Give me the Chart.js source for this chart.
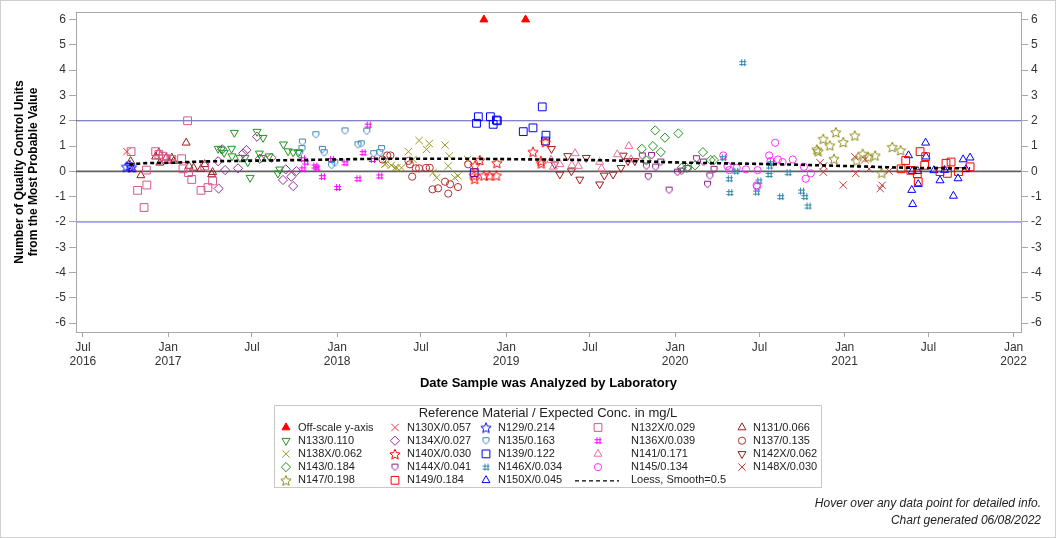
<!DOCTYPE html>
<html>
<head>
    <meta charset="UTF-8">
    <title>Quality Control Units</title>
    <style>
        body {
            margin: 0;
            background-color: #ffffff;
        }

        #grafico-container {
            width: 1056px;
            height: 538px;
        }
    </style>
    <script src="https://cdn.jsdelivr.net/npm/chart.js"></script>
</head>
<body>
    <div id="grafico-container"><canvas id="grafico" width="1056" height="538"></canvas></div>

    <script>
        // axis ranges and ticks
        var xStart = '2016-06-16';
        var xEnd = '2022-01-17';
        var xTickDates = ['2016-07-01', '2017-01-01', '2017-07-01', '2018-01-01', '2018-07-01', '2019-01-01',
            '2019-07-01', '2020-01-01', '2020-07-01', '2021-01-01', '2021-07-01', '2022-01-01'];
        var monthNames = ['Jan', 'Feb', 'Mar', 'Apr', 'May', 'Jun', 'Jul', 'Aug', 'Sep', 'Oct', 'Nov', 'Dec'];
        var yTicks = [-6, -5, -4, -3, -2, -1, 0, 1, 2, 3, 4, 5, 6];
        var yMin = -6.35;
        var yMax = 6.3;
        var refLines = [0, 2, -2];

        // series: [date analyzed, QC units from MPV]
        var offScale = [['2018-11-14', 6], ['2019-02-12', 6]];
        var n130x = [['2016-10-04', 0.78]];
        var n129 = [['2016-10-03', 0.19], ['2016-10-10', 0.25], ['2016-10-14', 0.17]];
        var n132x = [['2016-10-13', 0.78], ['2016-11-15', 0.05], ['2016-10-27', -0.75], ['2016-11-10', -1.43],
            ['2016-11-16', -0.54], ['2016-12-05', 0.78], ['2016-12-12', 0.67], ['2016-12-21', 0.6], ['2016-12-28', 0.5],
            ['2017-01-09', 0.47], ['2017-01-30', 0.5], ['2017-02-12', 2.0], ['2017-02-02', 0.1], ['2017-02-14', -0.05],
            ['2017-02-21', -0.32], ['2017-03-13', -0.75], ['2017-03-21', 0.21], ['2017-03-28', -0.64], ['2017-04-07', -0.38]];
        var n131 = [['2016-10-12', 0.4], ['2016-10-16', 0.08], ['2016-11-03', -0.16], ['2016-12-05', 0.58],
            ['2016-12-12', 0.74], ['2016-12-14', 0.34], ['2016-12-28', 0.54], ['2017-01-09', 0.54], ['2017-01-13', 0.4],
            ['2017-02-09', 1.13], ['2017-02-15', 0.21], ['2017-02-25', 0.14], ['2017-03-13', 0.1], ['2017-03-21', 0.28],
            ['2017-04-07', -0.03], ['2017-04-05', -0.12]];
        var n133 = [['2017-04-19', 0.9], ['2017-04-26', 0.87], ['2017-05-24', 1.53], ['2017-05-02', 0.74],
            ['2017-05-18', 0.9], ['2017-05-19', 0.6], ['2017-06-05', 0.54], ['2017-06-16', 0.54], ['2017-06-27', -0.25],
            ['2017-06-22', 0.37], ['2017-07-12', 1.57], ['2017-07-25', 1.33], ['2017-07-17', 0.71], ['2017-07-22', 0.54],
            ['2017-08-07', 0.6], ['2017-09-07', 1.07], ['2017-09-17', 0.8], ['2017-09-28', 0.76], ['2017-10-09', 0.74],
            ['2017-08-30', 0.08], ['2017-08-26', -0.08]];
        var n134x = [['2017-04-19', 0.4], ['2017-04-28', 0.87], ['2017-05-04', 0.05], ['2017-06-01', 0.12],
            ['2017-04-20', -0.68], ['2017-06-12', 0.71], ['2017-06-19', 0.84], ['2017-07-12', 1.37], ['2017-07-18', 0.5],
            ['2017-08-12', 0.54], ['2017-09-06', -0.34], ['2017-09-12', 0.08], ['2017-09-24', -0.21], ['2017-09-28', -0.58],
            ['2017-10-05', 0.01]];
        var n135 = [['2017-10-18', 1.16], ['2017-11-16', 1.45], ['2017-10-17', 0.9], ['2017-10-12', 0.74],
            ['2017-11-30', 0.87], ['2017-12-04', 0.74], ['2017-12-20', 0.24], ['2017-12-27', 0.34], ['2018-01-18', 1.6],
            ['2018-02-15', 1.05], ['2018-02-22', 1.09], ['2018-03-06', 1.59], ['2018-03-21', 0.7], ['2018-04-07', 0.9],
            ['2018-04-03', 0.74]];
        var n136x = [['2017-10-18', 0.5], ['2017-10-25', 0.37], ['2017-10-19', 0.1], ['2017-11-14', 0.21],
            ['2017-11-18', 0.14], ['2017-11-30', -0.21], ['2017-12-20', 0.47], ['2018-01-02', -0.64], ['2018-01-18', 0.34],
            ['2018-02-15', -0.29], ['2018-02-26', 0.74], ['2018-03-09', 1.83], ['2018-03-18', 0.47], ['2018-04-03', -0.18]];
        var n137 = [['2018-04-09', 0.47], ['2018-04-19', 0.63], ['2018-04-26', 0.63], ['2018-06-04', 0.41],
            ['2018-06-07', 0.28], ['2018-06-12', -0.21], ['2018-06-20', 0.12], ['2018-06-27', 0.12], ['2018-07-12', 0.14],
            ['2018-07-20', 0.14], ['2018-07-26', -0.71], ['2018-08-07', -0.67], ['2018-08-22', -0.41], ['2018-09-02', -0.51],
            ['2018-08-29', -0.88], ['2018-09-19', -0.62], ['2018-10-11', 0.28]];
        var n138x = [['2018-06-27', 1.22], ['2018-07-19', 1.1], ['2018-07-13', 0.87], ['2018-06-04', 0.78],
            ['2018-06-14', 0.47], ['2018-04-14', 0.28], ['2018-04-17', 0.32], ['2018-04-28', 0.24], ['2018-05-06', 0.14],
            ['2018-05-10', 0.14], ['2018-05-20', 0.14], ['2018-08-22', 1.04], ['2018-08-31', 0.61], ['2018-08-29', 0.21],
            ['2018-07-27', -0.05], ['2018-08-04', -0.25], ['2018-09-12', -0.25], ['2018-09-19', -0.18], ['2018-10-10', 0.47]];
        var n140x = [['2018-11-05', 0.45], ['2018-10-26', 0.24], ['2018-10-24', -0.16], ['2018-10-25', -0.29],
            ['2018-11-14', -0.16], ['2018-11-26', -0.16], ['2018-12-11', -0.16], ['2018-12-12', 0.34], ['2019-02-28', 0.78],
            ['2019-03-18', 0.32], ['2019-03-17', 0.42], ['2019-03-27', 1.16]];
        var n139 = [['2018-10-24', -0.05], ['2018-10-29', 1.9], ['2018-11-02', 2.16], ['2018-11-28', 2.16],
            ['2018-12-04', 1.86], ['2018-12-11', 2.03], ['2018-12-13', 2.0], ['2019-02-07', 1.57], ['2019-02-28', 1.72],
            ['2019-03-20', 2.55], ['2019-03-28', 1.43], ['2019-03-27', 1.2]];
        var n141 = [['2019-04-08', 0.45], ['2019-04-13', 0.18], ['2019-04-27', 0.28], ['2019-05-30', 0.71],
            ['2019-05-23', 0.24], ['2019-06-06', 0.21], ['2019-07-22', 0.37], ['2019-07-26', 0.11], ['2019-08-29', 0.67],
            ['2019-09-23', 1.0], ['2019-09-28', 0.47]];
        var n142x = [['2019-04-09', 0.89], ['2019-04-16', 0.28], ['2019-04-27', -0.12], ['2019-05-14', 0.61],
            ['2019-05-22', 0.01], ['2019-06-09', -0.32], ['2019-06-23', 0.54], ['2019-07-22', -0.51], ['2019-08-01', -0.16],
            ['2019-08-20', -0.12], ['2019-09-06', 0.14], ['2019-09-11', 0.63], ['2019-09-21', 0.41], ['2019-10-06', 0.41]];
        var n143 = [['2019-10-21', 0.89], ['2019-10-31', 0.43], ['2019-11-14', 1.0], ['2019-11-19', 1.62],
            ['2019-12-01', 0.76], ['2019-12-10', 1.33], ['2020-01-08', 1.5], ['2020-01-15', 0.14], ['2020-01-26', 0.14],
            ['2020-02-13', 0.24], ['2020-03-01', 0.76], ['2020-03-18', 0.45], ['2020-03-25', 0.45]];
        var n144x = [['2019-10-22', 0.61], ['2019-10-31', 0.21], ['2019-11-04', -0.21], ['2019-11-11', 0.63],
            ['2019-11-20', 0.17], ['2019-12-01', 0.37], ['2019-12-19', -0.74], ['2020-01-06', -0.03], ['2020-01-15', 0.01],
            ['2020-01-29', 0.11], ['2020-02-16', 0.5], ['2020-03-02', 0.37], ['2020-03-11', -0.51], ['2020-03-16', -0.18],
            ['2020-03-25', 0.08]];
        var n146x = [['2020-04-14', 0.54], ['2020-04-27', -0.29], ['2020-04-28', -0.84], ['2020-05-11', 0.01],
            ['2020-05-26', 4.3], ['2020-06-25', -0.82], ['2020-06-30', -0.38], ['2020-07-22', -0.12], ['2020-07-23', 0.21],
            ['2020-07-27', 0.34], ['2020-08-16', -1.0], ['2020-09-01', -0.05], ['2020-09-30', -0.78], ['2020-10-07', -1.0],
            ['2020-10-14', -1.37]];
        var n145 = [['2020-04-14', 0.63], ['2020-04-23', 0.21], ['2020-04-27', 0.05], ['2020-05-13', 0.14],
            ['2020-06-02', 0.08], ['2020-06-27', 0.05], ['2020-06-25', -0.55], ['2020-06-26', -0.6], ['2020-07-22', 0.63],
            ['2020-07-25', 0.41], ['2020-08-04', 1.13], ['2020-08-10', 0.47], ['2020-08-20', 0.37], ['2020-09-11', 0.47],
            ['2020-10-05', 0.18], ['2020-10-09', -0.29], ['2020-10-20', -0.08]];
        var n148x = [['2020-11-09', 0.34], ['2020-11-16', -0.03], ['2020-11-17', 0.22], ['2020-12-29', -0.54],
            ['2021-01-23', 0.58], ['2021-01-25', -0.08], ['2021-02-14', 0.47], ['2021-02-23', 0.1], ['2021-03-19', -0.68],
            ['2021-03-23', -0.55], ['2021-04-07', 0.01]];
        var n147 = [['2020-11-02', 0.87], ['2020-11-05', 0.8], ['2020-11-16', 1.29], ['2020-11-30', 1.03],
            ['2020-12-13', 1.55], ['2020-12-29', 1.16], ['2020-12-09', 0.5], ['2021-01-23', 1.42], ['2021-01-27', 0.43],
            ['2021-02-09', 0.7], ['2021-02-21', 0.58], ['2021-03-08', 0.63], ['2021-03-22', -0.05], ['2021-04-14', 0.97],
            ['2021-05-02', 0.84]];
        var n149 = [['2021-05-03', 0.1], ['2021-05-13', 0.43], ['2021-05-24', 0.04], ['2021-06-07', -0.09],
            ['2021-06-09', -0.41], ['2021-06-13', 0.78], ['2021-06-25', 0.58], ['2021-06-23', 0.24], ['2021-07-26', -0.01],
            ['2021-08-08', 0.32], ['2021-08-19', 0.37], ['2021-08-11', -0.08], ['2021-09-04', -0.01], ['2021-09-29', 0.18]];
        var n150x = [['2021-05-19', 0.63], ['2021-05-27', 0.01], ['2021-05-26', -0.74], ['2021-05-28', -1.3],
            ['2021-06-08', 0.01], ['2021-06-09', -0.51], ['2021-06-25', 1.13], ['2021-06-26', 0.58], ['2021-07-13', 0.04],
            ['2021-07-26', -0.36], ['2021-08-05', 0.05], ['2021-08-24', -0.97], ['2021-09-03', -0.28], ['2021-09-14', 0.47],
            ['2021-09-29', 0.54], ['2021-09-20', 0.08]];
        var loess = [['2016-10-09', 0.27], ['2016-11-07', 0.32], ['2017-01-05', 0.34], ['2017-03-17', 0.39],
            ['2017-06-27', 0.42], ['2017-10-19', 0.45], ['2018-05-17', 0.5], ['2018-09-02', 0.5], ['2019-03-09', 0.47],
            ['2019-08-21', 0.43], ['2020-01-12', 0.35], ['2020-08-14', 0.28], ['2021-01-06', 0.21], ['2021-05-28', 0.14],
            ['2021-09-29', 0.12]];

        var tituloY = ['Number of Quality Control Units', 'from the Most Probable Value'];
        var tituloX = 'Date Sample was Analyzed by Laboratory';
        var tituloLegenda = 'Reference Material / Expected Conc. in mg/L';
        var rodape = ['Hover over any data point for detailed info.', 'Chart generated 06/08/2022'];

        Chart.defaults.font.family = "'Liberation Sans', Arial, sans-serif";

        function paraPontos(lista) {
            return lista.map(function (p) { return { x: Date.parse(p[0]), y: p[1] }; });
        }

        // markers that Chart.js does not have
        function criarMarcador(tipo, cor, tam) {
            var c = document.createElement('canvas');
            c.width = tam;
            c.height = tam;
            var g = c.getContext('2d');
            var m = tam / 2;
            g.strokeStyle = cor;
            g.lineWidth = 1;
            g.beginPath();
            if (tipo === 'star') {
                for (var i = 0; i < 10; i++) {
                    var r = i % 2 ? m * 0.42 : m - 0.6;
                    var a = -Math.PI / 2 + i * Math.PI / 5;
                    var px = m + r * Math.cos(a), py = m + 0.7 + r * Math.sin(a);
                    if (i === 0) g.moveTo(px, py); else g.lineTo(px, py);
                }
                g.closePath();
            } else if (tipo === 'shield') {
                g.moveTo(1.5, 1.5);
                g.lineTo(tam - 1.5, 1.5);
                g.lineTo(tam - 1.5, tam * 0.55);
                g.lineTo(m, tam - 1);
                g.lineTo(1.5, tam * 0.55);
                g.closePath();
            } else if (tipo === 'hash') {
                var a1 = Math.round(m - 2) + 0.5, a2 = Math.round(m + 1) + 0.5;
                g.moveTo(a1, 1); g.lineTo(a1, tam - 1);
                g.moveTo(a2, 1); g.lineTo(a2, tam - 1);
                g.moveTo(1, a1); g.lineTo(tam - 1, a1);
                g.moveTo(1, a2); g.lineTo(tam - 1, a2);
            }
            g.stroke();
            return c;
        }

        // marker look per kind: [pointStyle, radius, rotation]
        function estiloMarcador(tipo, cor) {
            if (tipo === 'star') return [criarMarcador('star', cor, 12), 6, 0];
            if (tipo === 'shield') return [criarMarcador('shield', cor, 9), 4.5, 0];
            if (tipo === 'hash') return [criarMarcador('hash', cor, 9), 4.5, 0];
            if (tipo === 'down') return ['triangle', 4.6, 180];
            if (tipo === 'rect') return ['rect', 5.5, 0];
            if (tipo === 'rectRot') return ['rectRot', 4.6, 0];
            if (tipo === 'circle') return ['circle', 3.6, 0];
            if (tipo === 'crossRot') return ['crossRot', 5.2, 0];
            return ['triangle', 4.6, 0];
        }

        var series = [
            { label: 'Off-scale y-axis', data: offScale, cor: '#ff0000', tipo: 'triangle', cheio: true },
            { label: 'N130X/0.057', data: n130x, cor: '#f03a3a', tipo: 'crossRot' },
            { label: 'N129/0.214', data: n129, cor: '#0000ff', tipo: 'star' },
            { label: 'N132X/0.029', data: n132x, cor: '#d9578a', tipo: 'rect' },
            { label: 'N131/0.066', data: n131, cor: '#961e1e', tipo: 'triangle' },
            { label: 'N133/0.110', data: n133, cor: '#1e961e', tipo: 'down' },
            { label: 'N134X/0.027', data: n134x, cor: '#9a2e9a', tipo: 'rectRot' },
            { label: 'N135/0.163', data: n135, cor: '#3f82b4', tipo: 'shield' },
            { label: 'N136X/0.039', data: n136x, cor: '#ff00ff', tipo: 'hash' },
            { label: 'N137/0.135', data: n137, cor: '#b03232', tipo: 'circle' },
            { label: 'N138X/0.062', data: n138x, cor: '#9a9a1e', tipo: 'crossRot' },
            { label: 'N140X/0.030', data: n140x, cor: '#ff0000', tipo: 'star' },
            { label: 'N139/0.122', data: n139, cor: '#0000ff', tipo: 'rect' },
            { label: 'N141/0.171', data: n141, cor: '#e8709c', tipo: 'triangle' },
            { label: 'N142X/0.062', data: n142x, cor: '#9a1e1e', tipo: 'down' },
            { label: 'N143/0.184', data: n143, cor: '#1e961e', tipo: 'rectRot' },
            { label: 'N144X/0.041', data: n144x, cor: '#8b1a8b', tipo: 'shield' },
            { label: 'N146X/0.034', data: n146x, cor: '#2f86a8', tipo: 'hash' },
            { label: 'N145/0.134', data: n145, cor: '#ff30ff', tipo: 'circle' },
            { label: 'N148X/0.030', data: n148x, cor: '#c03a3a', tipo: 'crossRot' },
            { label: 'N147/0.198', data: n147, cor: '#8a8a10', tipo: 'star' },
            { label: 'N149/0.184', data: n149, cor: '#ff0000', tipo: 'rect' },
            { label: 'N150X/0.045', data: n150x, cor: '#0000ff', tipo: 'triangle' }
        ];

        var coresRef = { '0': '#606060', '2': '#5a5ab4', '-2': '#9c9cf0' };
        var larguraRef = { '0': 1.8, '2': 1.2, '-2': 1.8 };

        var datasets = [];
        var entradasLegenda = [];
        series.forEach(function (s) {
            var est = estiloMarcador(s.tipo, s.cor);
            datasets.push({
                label: s.label,
                data: paraPontos(s.data),
                pointStyle: est[0],
                pointRadius: est[1],
                pointHoverRadius: est[1] + 1,
                pointRotation: est[2],
                borderColor: s.cor,
                backgroundColor: s.cheio ? s.cor : 'rgba(0,0,0,0)',
                pointBorderWidth: 1,
                borderWidth: 1
            });
            entradasLegenda.push({ label: s.label, cor: s.cor, cheio: s.cheio, estilo: est });
        });

        datasets.push({
            label: 'Loess, Smooth=0.5',
            data: paraPontos(loess),
            showLine: true,
            pointRadius: 0,
            pointHoverRadius: 0,
            borderColor: '#000000',
            borderWidth: 2.6,
            borderDash: [4, 3],
            cubicInterpolationMode: 'monotone',
            order: -1
        });
        entradasLegenda.push({ label: 'Loess, Smooth=0.5', linha: true });

        refLines.forEach(function (v) {
            datasets.push({
                label: 'ref ' + v,
                data: [{ x: Date.parse(xStart), y: v }, { x: Date.parse(xEnd), y: v }],
                showLine: true,
                pointRadius: 0,
                pointHoverRadius: 0,
                borderColor: coresRef[String(v)],
                borderWidth: larguraRef[String(v)],
                order: 100
            });
        });

        var corEixo = '#a8a8a8';

        var fundoPlugin = {
            id: 'fundo',
            beforeDraw: function (chart) {
                var ctx = chart.ctx;
                ctx.save();
                ctx.fillStyle = '#ffffff';
                ctx.fillRect(0, 0, chart.width, chart.height);
                ctx.strokeStyle = '#d0d0d0';
                ctx.lineWidth = 1;
                ctx.strokeRect(0.5, 0.5, chart.width - 1, chart.height - 1);
                var a = chart.chartArea;
                ctx.strokeStyle = corEixo;
                ctx.strokeRect(Math.round(a.left) + 0.5, Math.round(a.top) + 0.5,
                    Math.round(a.right - a.left), Math.round(a.bottom - a.top));
                ctx.restore();
            }
        };

        var legendaPlugin = {
            id: 'legendaSas',
            afterDraw: function (chart) {
                var ctx = chart.ctx;
                ctx.save();
                ctx.strokeStyle = '#c8c8c8';
                ctx.lineWidth = 1;
                ctx.strokeRect(274.5, 405.5, 547, 82);

                ctx.fillStyle = '#222222';
                ctx.textBaseline = 'middle';
                ctx.textAlign = 'center';
                ctx.font = "13px 'Liberation Sans', Arial, sans-serif";
                ctx.fillText(tituloLegenda, 548, 413);

                var colMarcador = [286, 395, 486, 598, 742];
                var colTexto = [298, 407, 498, 631, 753];
                var linhaY = [427.5, 440.7, 453.9, 467.1, 480.3];
                ctx.font = "11px 'Liberation Sans', Arial, sans-serif";
                ctx.textAlign = 'left';
                entradasLegenda.forEach(function (e, i) {
                    var col = i % 5, lin = Math.floor(i / 5);
                    var y = linhaY[lin];
                    if (e.linha) {
                        ctx.save();
                        ctx.strokeStyle = '#000000';
                        ctx.lineWidth = 1.2;
                        ctx.setLineDash([4, 3]);
                        ctx.beginPath();
                        ctx.moveTo(575, y + 0.5);
                        ctx.lineTo(619, y + 0.5);
                        ctx.stroke();
                        ctx.restore();
                    } else if (Chart.helpers && Chart.helpers.drawPoint) {
                        ctx.save();
                        ctx.strokeStyle = e.cor;
                        ctx.fillStyle = e.cheio ? e.cor : 'rgba(0,0,0,0)';
                        ctx.lineWidth = 1;
                        Chart.helpers.drawPoint(ctx, {
                            pointStyle: e.estilo[0],
                            radius: e.estilo[1],
                            rotation: e.estilo[2],
                            borderWidth: 1
                        }, colMarcador[col], y);
                        ctx.restore();
                    }
                    ctx.fillStyle = '#222222';
                    ctx.fillText(e.label, colTexto[col], y);
                });

                ctx.font = "italic 12px 'Liberation Sans', Arial, sans-serif";
                ctx.textAlign = 'right';
                ctx.fillText(rodape[0], 1041, 504);
                ctx.fillText(rodape[1], 1041, 521);
                ctx.restore();
            }
        };

        var escalaY = function (pos, largura) {
            return {
                type: 'linear',
                position: pos,
                min: yMin,
                max: yMax,
                afterBuildTicks: function (s) {
                    s.ticks = yTicks.map(function (v) { return { value: v }; });
                },
                afterFit: function (s) { s.width = largura; },
                ticks: { font: { size: 12 }, color: '#333333', padding: 3 },
                grid: { drawOnChartArea: false, tickLength: 7, color: corEixo },
                border: { display: false }
            };
        };

        var opcoesY = escalaY('left', 76);
        opcoesY.title = {
            display: true,
            text: tituloY,
            color: '#000000',
            font: { size: 12, weight: 'bold', lineHeight: 1.15 },
            padding: { top: 13, bottom: 0 }
        };

        var grafico = new Chart(document.getElementById('grafico').getContext('2d'), {
            type: 'scatter',
            data: { datasets: datasets },
            options: {
                responsive: false,
                animation: false,
                layout: { padding: { left: 0, right: 0, top: 12, bottom: 146 } },
                plugins: {
                    legend: { display: false },
                    tooltip: {
                        filter: function (item) { return item.dataset.label.indexOf('ref') !== 0; },
                        callbacks: {
                            label: function (item) {
                                var d = new Date(item.parsed.x).toISOString().slice(0, 10);
                                return item.dataset.label + ': ' + d + ', ' + item.parsed.y;
                            }
                        }
                    }
                },
                scales: {
                    x: {
                        type: 'linear',
                        min: Date.parse(xStart),
                        max: Date.parse(xEnd),
                        afterBuildTicks: function (s) {
                            s.ticks = xTickDates.map(function (d) { return { value: Date.parse(d) }; });
                        },
                        afterFit: function (s) { s.height = 60; },
                        ticks: {
                            autoSkip: false,
                            maxRotation: 0,
                            font: { size: 12 },
                            color: '#333333',
                            padding: 3,
                            callback: function (value, i) {
                                var d = new Date(value);
                                var mes = monthNames[d.getUTCMonth()];
                                if (i === 0 || d.getUTCMonth() === 0) return [mes, String(d.getUTCFullYear())];
                                return mes;
                            }
                        },
                        grid: { drawOnChartArea: false, tickLength: 5, color: corEixo },
                        border: { display: false },
                        title: {
                            display: true,
                            text: tituloX,
                            color: '#000000',
                            font: { size: 13, weight: 'bold' },
                            padding: { top: 0, bottom: 1 }
                        }
                    },
                    y: opcoesY,
                    y2: escalaY('right', 35)
                }
            },
            plugins: [fundoPlugin, legendaPlugin]
        });
    </script>
</body>
</html>
